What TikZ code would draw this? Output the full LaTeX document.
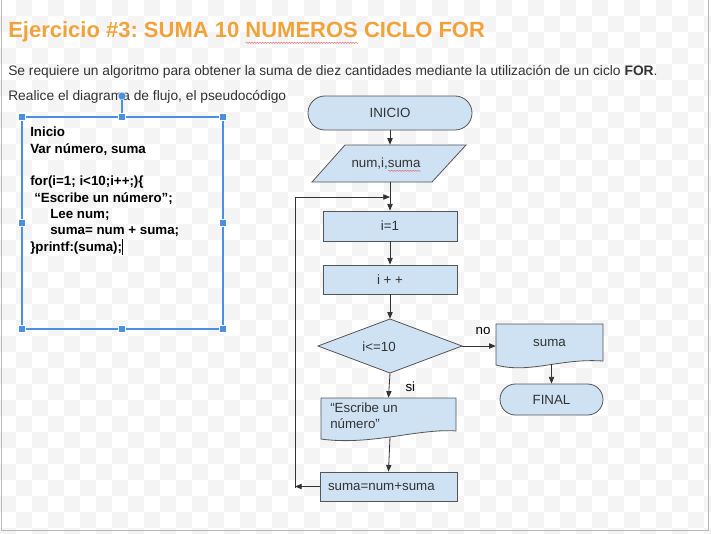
\documentclass[tikz,border=0pt]{standalone}
\usepackage{fontspec}
\setmainfont{Liberation Sans}
\usetikzlibrary{arrows.meta,calc,decorations.pathmorphing}
\frenchspacing
\definecolor{titleorange}{RGB}{241,163,58}
\definecolor{txtgray}{RGB}{51,51,51}
\definecolor{boxblue}{RGB}{207,226,243}
\definecolor{edgegray}{RGB}{85,85,85}
\definecolor{linegray}{RGB}{50,50,50}
\definecolor{selblue}{RGB}{74,144,226}
\definecolor{spellred}{RGB}{225,120,130}
\definecolor{checker}{RGB}{244,244,244}
\newcommand\titlefont{\bfseries\fontsize{16.5}{20}\selectfont}
\newcommand\flowfont{\fontsize{10}{12}\selectfont}
\newcommand\headfont{\fontsize{10.33}{12.4}\selectfont}
\newlength\wavestartA \newlength\waveendA \newlength\wavestartB
\settowidth{\wavestartA}{\titlefont NUMEROS CICLO FOR}
\settowidth{\waveendA}{\titlefont\ CICLO FOR}
\settowidth{\wavestartB}{\flowfont suma}
\begin{document}
\begin{tikzpicture}[x=0.75pt,y=-0.75pt,
  flow/.style={draw=edgegray, fill=boxblue, line width=0.6pt},
  lbl/.style={text=txtgray, font=\flowfont, inner sep=0pt},
  procbox/.style={flow, lbl, rectangle},
  arr/.style={draw=linegray, line width=0.6pt, -{Triangle[length=5pt,width=4pt]}},
  ln/.style={draw=linegray, line width=0.6pt},
  handle/.style={rectangle, fill=selblue, draw=white, line width=0.3pt, minimum size=5.5pt, inner sep=0pt},
  spell/.style={draw=spellred, line width=0.4pt, decorate, decoration={snake, amplitude=0.5pt, segment length=2pt}}
]
\useasboundingbox (0,0) rectangle (711,533);
% background
\fill[white] (0,0) rectangle (711,533);
\foreach \i in {0,...,44} {\foreach \j in {0,...,33} {
  \pgfmathtruncatemacro{\chk}{mod(\i+\j,2)}
  \ifnum\chk=1 \fill[checker] (\i*16,\j*16) rectangle ++(16,16); \fi}}
\draw[gray!55, line width=0.8pt] (1.5,0) -- (1.5,530.5) -- (708.5,530.5) -- (708.5,0);

% header texts
\node[anchor=base west, inner sep=0, font=\titlefont, text=titleorange] (title) at (8,37.5)
  {Ejercicio \#3: SUMA 10 NUMEROS CICLO FOR};
\draw[spell] ($(title.base east)+(-\wavestartA,-4pt)$) -- ($(title.base east)+(-\waveendA,-4pt)$);
\node[anchor=base west, inner sep=0, font=\headfont, text=txtgray] (line2) at (8,75)
  {Se requiere un algoritmo para obtener la suma de diez cantidades mediante la utilización de un ciclo \textbf{FOR}.};
\node[anchor=base west, inner sep=0, font=\headfont, text=txtgray] (line3) at (8,100)
  {Realice el diagrama de flujo, el pseudocódigo};

% pseudocode box
\node[anchor=north west, inner sep=0, align=left, font=\bfseries\fontsize{10}{12.25}\selectfont, text=black] (code) at (30,127)
  {Inicio\\
   Var número, suma\\[12.25pt]
   for(i=1; i<10;i++;)\{\\
   \hspace*{3pt}“Escribe un número”;\\
   \hspace*{15pt}Lee num;\\
   \hspace*{15pt}suma= num + suma;\\
   \}printf:(suma);\rule[-2.5pt]{0.9pt}{12pt}};
\draw[selblue, line width=1.5pt] (22,117) rectangle (223,329);
\foreach \p [count=\k] in {(22,117),(122,117),(223,117),(22,223),(223,223),(22,329),(122,329),(223,329)}
  \node[handle] (h\k) at \p {};
\node[handle, circle, minimum size=6pt] (rot) at (122,96) {};
\draw[selblue, line width=0.8pt] (rot) -- (h2);

% flowchart
\node[procbox, rounded corners=12.7pt, minimum width=123pt, minimum height=25.5pt] (inicio) at (390,113) {INICIO};

\path[flow] (345,145) -- (466,145) -- (432,182) -- (312,182) -- cycle;
\node[minimum width=60pt, minimum height=27.75pt, inner sep=0pt] (param) at (389,163.5) {};
\node[lbl] (paramtxt) at (386,163.5) {num,i,suma};
\draw[spell] ($(paramtxt.base east)+(-\wavestartB,-2.5pt)$) -- ($(paramtxt.base east)+(0,-2.5pt)$);

\node[procbox, minimum width=100.5pt, minimum height=22.5pt] (i1) at (390,226) {i=1};
\node[procbox, minimum width=100.5pt, minimum height=21.75pt] (ipp) at (390,279.5) {i + +};

\path[flow] (318,346) -- (390,319) -- (462,346) -- (390,373) -- cycle;
\node[minimum width=108pt, minimum height=40.5pt, inner sep=0pt] (cond) at (390,346) {};
\node[lbl] (condtxt) at (379,347) {i<=10};

\path[flow] (496,324) -- (603,324) -- (603,361) .. controls (560,358) and (530,374) .. (496,365) -- cycle;
\node[lbl, minimum width=80.25pt, minimum height=27.75pt] (suma) at (549.5,342.5) {suma};
\coordinate (sumabot) at (551.5,364);

\node[procbox, rounded corners=11.6pt, minimum width=77.25pt, minimum height=23.25pt] (final) at (551.5,399.5) {FINAL};

\path[flow] (321,398) -- (456,398) -- (456,431) .. controls (420,428) and (370,446) .. (321,439) -- cycle;
\node[minimum width=101.25pt, minimum height=24.75pt, inner sep=0pt] (esc) at (388.5,414.5) {};
\node[lbl, anchor=north west, align=left, font=\fontsize{10}{11.5}\selectfont] (esctxt) at (330,403) {“Escribe un\\número”};
\coordinate (escbot) at (390,437);

\node[procbox, align=left, text width=90.75pt, inner xsep=6pt, minimum height=21.75pt] (sumabox) at (388.5,486.5) {suma=num+suma};

% connectors
\draw[arr] (inicio.south) -- (inicio.south |- param.north);
\draw[arr] (i1.north |- param.south) -- (i1.north);
\draw[arr] (i1) -- (ipp);
\draw[arr] (ipp) -- (cond.north);
\draw[arr] (cond.east) -- (suma.west |- cond.east) node[lbl, text=black, pos=0.62, above=8pt] (no) {no};
\draw[arr] (sumabot) -- (final.north);
\draw[arr] (cond.south) -- (esc.north) node[lbl, text=black, pos=0.55, right=12pt] (si) {si};
\draw[arr] (escbot) -- (sumabox.north);
\coordinate (lc) at (295,488);
\coordinate (lt) at (295,197);
\draw[arr] (sumabox.west) -- (lc |- sumabox.west);
\draw[ln] (lc) -- (lt);
\draw[arr] (lt) -- (i1.north |- lt);
\end{tikzpicture}
\end{document}
